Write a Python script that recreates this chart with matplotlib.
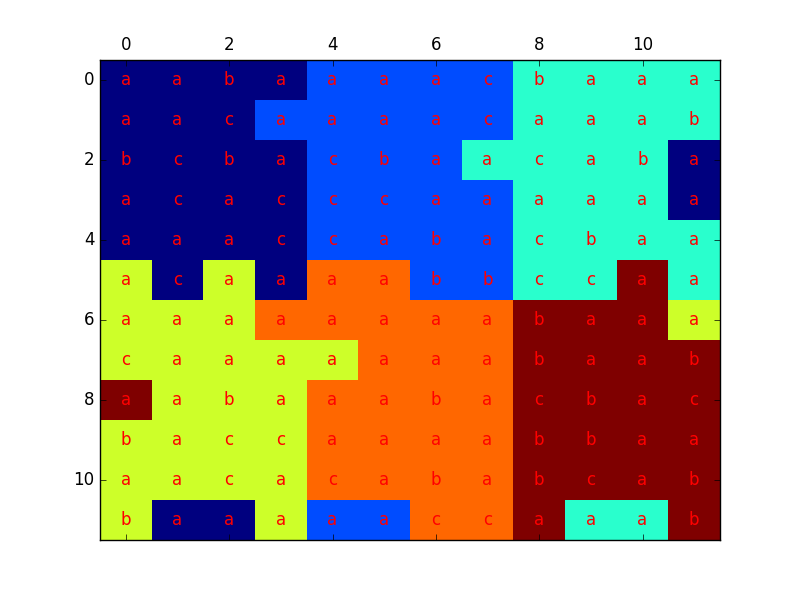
import numpy as np
import matplotlib
matplotlib.use("Agg")
import matplotlib.pyplot as plt

# colour class of every cell (0..5 on the jet colormap)
levels = [
    [0, 0, 0, 0, 1, 1, 1, 1, 2, 2, 2, 2],
    [0, 0, 0, 1, 1, 1, 1, 1, 2, 2, 2, 2],
    [0, 0, 0, 0, 1, 1, 1, 2, 2, 2, 2, 0],
    [0, 0, 0, 0, 1, 1, 1, 1, 2, 2, 2, 0],
    [0, 0, 0, 0, 1, 1, 1, 1, 2, 2, 2, 2],
    [3, 0, 3, 0, 4, 4, 1, 1, 2, 2, 5, 2],
    [3, 3, 3, 4, 4, 4, 4, 4, 5, 5, 5, 3],
    [3, 3, 3, 3, 3, 4, 4, 4, 5, 5, 5, 5],
    [5, 3, 3, 3, 4, 4, 4, 4, 5, 5, 5, 5],
    [3, 3, 3, 3, 4, 4, 4, 4, 5, 5, 5, 5],
    [3, 3, 3, 3, 4, 4, 4, 4, 5, 5, 5, 5],
    [3, 0, 0, 3, 1, 1, 4, 4, 5, 2, 2, 5],
]

# letter written in every cell
labels = [
    "aabaaaacbaaa",
    "aacaaaacaaab",
    "bcbacbaacaba",
    "acacccaaaaaa",
    "aaaccabacbaa",
    "acaaaabbccaa",
    "aaaaaaaabaaa",
    "caaaaaaabaab",
    "aabaaabacbac",
    "baccaaaabbaa",
    "aacacababcab",
    "baaaaaccaaab",
]

plt.style.use("classic")
fig = plt.figure(figsize=(8, 6), dpi=100)
ax = fig.add_subplot(111)
data = np.array(levels)
ax.matshow(data, cmap="jet", vmin=0, vmax=5, aspect="auto")

for i, row in enumerate(labels):
    for j, ch in enumerate(row):
        ax.text(j, i, ch, color="red", ha="center", va="center", fontsize=12)

ax.set_xticks(range(0, 12, 2))
ax.set_yticks(range(0, 12, 2))
ax.set_xlim(-0.5, 11.5)
ax.set_ylim(11.5, -0.5)

fig.savefig("out.png")
